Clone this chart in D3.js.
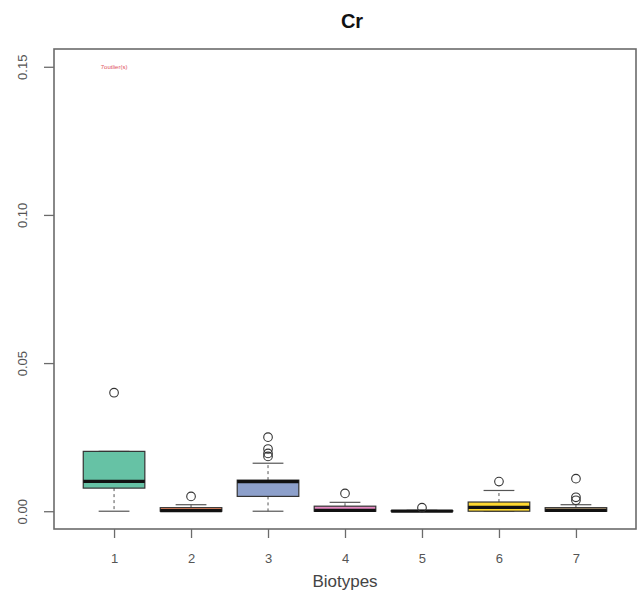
<!DOCTYPE html>
<html>
<head>
<meta charset="utf-8">
<script src="https://cdn.jsdelivr.net/npm/d3@7"></script>
<style>
  html, body { margin: 0; padding: 0; background: #fff; }
  svg { display: block; }
</style>
</head>
<body>
<svg id="chart" width="642" height="603"></svg>
<script>
// Cr concentration by biotype: five-number summaries plus outliers
const categories  = ["1", "2", "3", "4", "5", "6", "7"];
const whiskerLow  = [0, 0, 0, 0, 0, 0, 0];
const q1          = [0.0078, 0, 0.0050, 0, 0, 0, 0];
const median      = [0.0101, 0.0002, 0.0100, 0.0003, 0, 0.0013, 0.0003];
const q3          = [0.0202, 0.0012, 0.0105, 0.0017, 0.0002, 0.0031, 0.0012];
const whiskerHigh = [0.0202, 0.0022, 0.0162, 0.0030, 0.0003, 0.0070, 0.0022];
const outliers    = [[0.040], [0.0050], [0.0250, 0.0210, 0.0195, 0.0185], [0.0060], [0.0012], [0.0100], [0.0110, 0.0047, 0.0037]];
const fills       = ["#66c2a5", "#fc8d62", "#8da0cb", "#e78ac3", "#a6d854", "#ffd92f", "#e5c494"];
const yTicks      = [0, 0.05, 0.10, 0.15];
const noteText    = "7outlier(s)";
const noteAt      = { cat: "1", value: 0.15 };

const svg = d3.select("#chart");
const plot = { left: 54, right: 636, top: 49, bottom: 529 };

// x: categories at integer positions with R-style 4% padding around 0.5..7.5
const xLin = d3.scaleLinear()
  .domain([0.5 - 0.28, categories.length + 0.5 + 0.28])
  .range([plot.left, plot.right]);
const xPos = c => xLin(categories.indexOf(c) + 1);
const step = xLin(2) - xLin(1);
const boxW = step * 0.8;

const y = d3.scaleLinear()
  .domain([-0.006, 0.156])
  .range([plot.bottom, plot.top]);

const axisColor = "#6b6b6b";
const labelColor = "#555";

// plot frame
svg.append("rect")
  .attr("x", plot.left).attr("y", plot.top)
  .attr("width", plot.right - plot.left).attr("height", plot.bottom - plot.top)
  .attr("fill", "none").attr("stroke", axisColor).attr("stroke-width", 1.6);

// y axis
const yAxis = d3.axisLeft(y).tickValues(yTicks).tickFormat(d3.format(".2f")).tickSize(10).tickPadding(0);
const gy = svg.append("g").attr("transform", `translate(${plot.left},0)`).call(yAxis);
gy.select(".domain").remove();
gy.selectAll(".tick line").attr("stroke", axisColor).attr("stroke-width", 1.3);
gy.selectAll(".tick text").remove();
gy.selectAll(".tick").append("text")
  .attr("transform", "translate(-32,0) rotate(-90)")
  .attr("text-anchor", "middle")
  .attr("dy", "0.35em")
  .attr("fill", labelColor)
  .style("font-family", "Liberation Sans, Arial, sans-serif")
  .style("font-size", "13px")
  .text(d => d3.format(".2f")(d));

// x axis
const xAxis = d3.axisBottom(xLin).tickValues(d3.range(1, categories.length + 1))
  .tickFormat(i => categories[i - 1]).tickSize(9).tickPadding(16);
const gx = svg.append("g").attr("transform", `translate(0,${plot.bottom})`).call(xAxis);
gx.select(".domain").remove();
gx.selectAll(".tick line").attr("stroke", axisColor).attr("stroke-width", 1.3);
gx.selectAll(".tick text")
  .attr("fill", labelColor)
  .style("font-family", "Liberation Sans, Arial, sans-serif")
  .style("font-size", "13px");

// titles
svg.append("text")
  .attr("x", 352).attr("y", 28)
  .attr("text-anchor", "middle")
  .style("font-family", "Liberation Sans Narrow, Liberation Sans, Arial, sans-serif")
  .style("font-weight", "bold")
  .style("font-size", "20px")
  .attr("fill", "#111")
  .text("Cr");

svg.append("text")
  .attr("x", (plot.left + plot.right) / 2).attr("y", 587)
  .attr("text-anchor", "middle")
  .style("font-family", "Liberation Sans, Arial, sans-serif")
  .style("font-size", "17px")
  .attr("fill", "#444")
  .text("Biotypes");

// boxes
const g = svg.append("g");
categories.forEach((c, i) => {
  const cx = xPos(c);
  const grp = g.append("g");
  // dashed whiskers
  grp.append("line")
    .attr("x1", cx).attr("x2", cx)
    .attr("y1", y(q3[i])).attr("y2", y(whiskerHigh[i]))
    .attr("stroke", "#555").attr("stroke-width", 1).attr("stroke-dasharray", "3,3");
  grp.append("line")
    .attr("x1", cx).attr("x2", cx)
    .attr("y1", y(q1[i])).attr("y2", y(whiskerLow[i]))
    .attr("stroke", "#555").attr("stroke-width", 1).attr("stroke-dasharray", "3,3");
  // staples
  [whiskerLow[i], whiskerHigh[i]].forEach(v => {
    grp.append("line")
      .attr("x1", cx - boxW / 4).attr("x2", cx + boxW / 4)
      .attr("y1", y(v)).attr("y2", y(v))
      .attr("stroke", "#555").attr("stroke-width", 1.2);
  });
  // box
  grp.append("rect")
    .attr("x", cx - boxW / 2).attr("width", boxW)
    .attr("y", y(q3[i])).attr("height", Math.max(0, y(q1[i]) - y(q3[i])))
    .attr("fill", fills[i]).attr("stroke", "#333").attr("stroke-width", 1.2);
  // median
  grp.append("line")
    .attr("x1", cx - boxW / 2).attr("x2", cx + boxW / 2)
    .attr("y1", y(median[i])).attr("y2", y(median[i]))
    .attr("stroke", "#111").attr("stroke-width", 3.2);
  // outliers
  outliers[i].forEach(v => {
    grp.append("circle")
      .attr("cx", cx).attr("cy", y(v)).attr("r", 4.3)
      .attr("fill", "none").attr("stroke", "#333").attr("stroke-width", 1.1);
  });
});

// annotation
svg.append("text")
  .attr("x", xPos(noteAt.cat)).attr("y", y(noteAt.value))
  .attr("dy", "0.35em")
  .attr("text-anchor", "middle")
  .style("font-family", "Liberation Sans, Arial, sans-serif")
  .style("font-size", "6px")
  .attr("fill", "#e0505a")
  .text(noteText);
</script>
</body>
</html>
